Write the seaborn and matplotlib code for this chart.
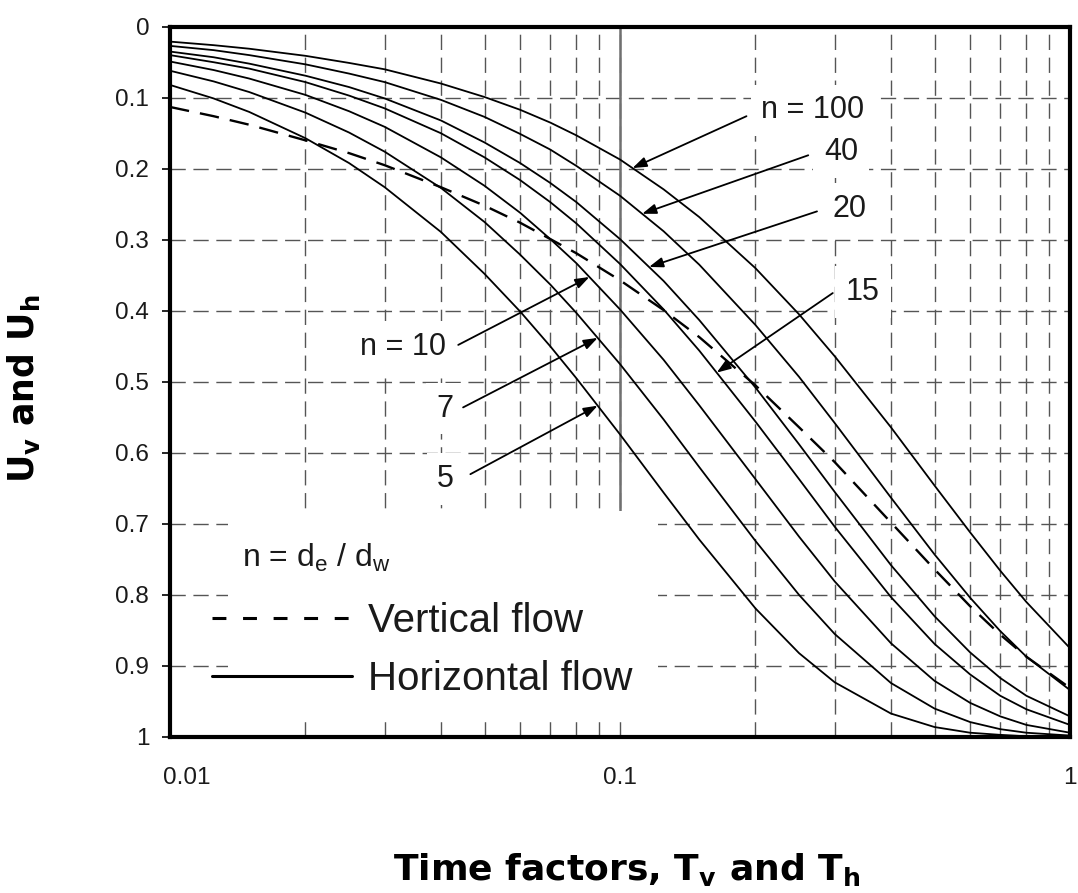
import numpy as np
import pandas as pd
import matplotlib
matplotlib.use("Agg")
import matplotlib.pyplot as plt
import matplotlib.transforms as mtransforms
from matplotlib.lines import Line2D
from matplotlib.patches import Rectangle
from matplotlib.ticker import FixedLocator, FixedFormatter, NullFormatter
import seaborn as sns

# ---------------------------------------------------------------- data
# Time factor samples (T_v and T_h)
time_factor = [0.01, 0.0125, 0.015, 0.02, 0.025, 0.03, 0.04, 0.05, 0.06, 0.07,
               0.08, 0.1, 0.125, 0.15, 0.2, 0.25, 0.3, 0.4, 0.5, 0.6, 0.7, 0.8, 1.0]

# Drain spacing ratios n = de / dw for the horizontal (radial) flow curves
spacing_ratios = [5, 7, 10, 15, 20, 40, 100]

# Degree of consolidation U_h for each spacing ratio
u_h_n5 = [0.082, 0.101, 0.120, 0.157, 0.192, 0.226, 0.289, 0.348, 0.401, 0.450,
          0.495, 0.574, 0.656, 0.722, 0.819, 0.882, 0.923, 0.967, 0.986, 0.994,
          0.997, 0.999, 1.000]
u_h_n7 = [0.062, 0.077, 0.092, 0.121, 0.149, 0.176, 0.227, 0.275, 0.321, 0.363,
          0.403, 0.475, 0.553, 0.620, 0.724, 0.800, 0.855, 0.924, 0.960, 0.979,
          0.989, 0.994, 0.998]
u_h_n10 = [0.049, 0.061, 0.073, 0.096, 0.119, 0.141, 0.184, 0.224, 0.262, 0.299,
           0.333, 0.398, 0.469, 0.533, 0.637, 0.718, 0.781, 0.868, 0.921, 0.952,
           0.971, 0.983, 0.994]
u_h_n15 = [0.040, 0.050, 0.059, 0.078, 0.097, 0.115, 0.150, 0.184, 0.216, 0.247,
           0.277, 0.334, 0.398, 0.456, 0.556, 0.637, 0.704, 0.803, 0.869, 0.912,
           0.942, 0.961, 0.983]
u_h_n20 = [0.035, 0.043, 0.052, 0.069, 0.085, 0.101, 0.132, 0.163, 0.192, 0.220,
           0.247, 0.299, 0.358, 0.413, 0.508, 0.588, 0.655, 0.758, 0.830, 0.881,
           0.917, 0.942, 0.971]
u_h_n40 = [0.027, 0.033, 0.040, 0.053, 0.066, 0.078, 0.103, 0.127, 0.151, 0.173,
           0.196, 0.238, 0.288, 0.335, 0.420, 0.493, 0.558, 0.663, 0.743, 0.804,
           0.851, 0.887, 0.934]
u_h_n100 = [0.021, 0.026, 0.031, 0.041, 0.051, 0.060, 0.080, 0.099, 0.117, 0.135,
            0.153, 0.187, 0.229, 0.268, 0.340, 0.405, 0.464, 0.564, 0.646, 0.712,
            0.766, 0.810, 0.875]

# Degree of consolidation U_v for vertical flow
u_vertical = [0.113, 0.126, 0.138, 0.160, 0.178, 0.195, 0.226, 0.252, 0.276, 0.299,
              0.319, 0.357, 0.399, 0.437, 0.505, 0.564, 0.613, 0.698, 0.764, 0.816,
              0.856, 0.887, 0.931]

# Axis ticks
x_major_ticks = [0.01, 0.1, 1.0]
x_tick_labels = ["0.01", "0.1", "1"]
x_minor_ticks = [0.02, 0.03, 0.04, 0.05, 0.06, 0.07, 0.08, 0.09,
                 0.2, 0.3, 0.4, 0.5, 0.6, 0.7, 0.8, 0.9]
y_ticks = [0.0, 0.1, 0.2, 0.3, 0.4, 0.5, 0.6, 0.7, 0.8, 0.9, 1.0]
y_tick_labels = ["0", "0.1", "0.2", "0.3", "0.4", "0.5", "0.6", "0.7", "0.8", "0.9", "1"]

# Curve labels: text, spacing ratio it points at, time factor where the arrow lands
curve_labels = ["n = 100", "40", "20", "15", "n = 10", "7", "5"]
label_ratio = [100, 40, 20, 15, 10, 7, 5]
arrow_tip_t = [0.1066, 0.112, 0.116, 0.164, 0.0855, 0.0892, 0.0892]

# ---------------------------------------------------------------- layout
# label anchor (T, U, horizontal alignment) and arrow tail (T, U)
label_anchor = [(0.206, 0.129, "left"), (0.284, 0.188, "left"),
                (0.296, 0.268, "left"), (0.318, 0.385, "left"),
                (0.0411, 0.462, "right"), (0.0426, 0.549, "right"),
                (0.0428, 0.648, "right")]
arrow_tail = [(0.191, 0.126), (0.262, 0.181), (0.274, 0.260), (0.297, 0.375),
              (0.0437, 0.448), (0.0448, 0.536), (0.0465, 0.630)]

# ---------------------------------------------------------------- style
sns.set_theme(style="white")
plt.rcParams["font.family"] = ["Liberation Sans", "DejaVu Sans"]
plt.rcParams["mathtext.default"] = "regular"
plt.rcParams["lines.scale_dashes"] = False
plt.rcParams["text.color"] = "#1a1a1a"

fig = plt.figure(figsize=(10.78, 8.93), dpi=100, facecolor="white")
ax = fig.add_axes([0.1577, 0.1747, 0.8349, 0.7954])
ax.set_facecolor("white")
ax.set_xscale("log")

h_series = dict(zip(spacing_ratios, [u_h_n5, u_h_n7, u_h_n10, u_h_n15,
                                     u_h_n20, u_h_n40, u_h_n100]))
horizontal = pd.DataFrame({
    "T": np.tile(time_factor, len(spacing_ratios)),
    "U": np.concatenate([h_series[n] for n in spacing_ratios]),
    "n": np.repeat(spacing_ratios, len(time_factor)),
})
vertical = pd.DataFrame({"T": time_factor, "U": u_vertical})

sns.lineplot(data=horizontal, x="T", y="U", units="n", estimator=None,
             color="black", linewidth=1.3, legend=False, ax=ax, zorder=2)
sns.lineplot(data=vertical, x="T", y="U", color="black", linewidth=1.7,
             linestyle=(0, (14, 8)), legend=False, ax=ax, zorder=2.1)

# axes, ticks and grid
ax.set_xlim(0.01, 1.0)
ax.set_ylim(1.0, 0.0)
ax.xaxis.set_major_locator(FixedLocator(x_major_ticks))
ax.xaxis.set_major_formatter(FixedFormatter(x_tick_labels))
ax.xaxis.set_minor_locator(FixedLocator(x_minor_ticks))
ax.xaxis.set_minor_formatter(NullFormatter())
ax.set_yticks(y_ticks)
ax.set_yticklabels(y_tick_labels)

grid_kw = dict(color="#555555", linewidth=1.0, linestyle=(0, (11, 5.5)))
ax.grid(True, axis="x", which="both", **grid_kw)
ax.grid(True, axis="y", which="major", **grid_kw)
ax.set_axisbelow(True)

ax.axvline(0.1, ymin=0.31, ymax=1.0, color="#707070", linewidth=1.8, zorder=0.9)

for spine in ax.spines.values():
    spine.set_visible(True)
    spine.set_color("black")
    spine.set_linewidth(3)

ax.tick_params(axis="y", which="major", left=True, length=6, width=1.2,
               color="black", pad=9, labelsize=17.5, labelcolor="#1a1a1a",
               direction="out")
ax.tick_params(axis="x", which="major", bottom=False, length=0, pad=21.5,
               labelsize=17.5, labelcolor="#1a1a1a")
ax.tick_params(axis="x", which="minor", bottom=False, length=0)
for lbl in ax.get_xticklabels():
    lbl.set_fontsize(17.5)
first = ax.get_xticklabels()[0]
first.set_horizontalalignment("left")
first.set_transform(first.get_transform() +
                    mtransforms.ScaledTranslation(-7 / 100, 0, fig.dpi_scale_trans))

ax.set_xlabel("Time factors, T$_v$ and T$_h$", fontsize=26, fontweight="bold",
              family="DejaVu Sans", color="black")
ax.xaxis.set_label_coords(0.507, -0.1606)
ax.set_ylabel("U$_v$ and U$_h$", fontsize=25, fontweight="bold",
              family="DejaVu Sans", color="black")
ax.yaxis.set_label_coords(-0.142, 0.49)

# key area in the lower left
ax.add_patch(Rectangle((0.0644, 0.0296), 0.4778, 0.2884, transform=ax.transAxes,
                       facecolor="white", edgecolor="none", zorder=1))
ax.text(0.08, 0.2394, "n = d$_e$ / d$_w$", transform=ax.transAxes, fontsize=23,
        va="baseline", ha="left", zorder=5)
handles = [Line2D([], [], color="black", linewidth=2.2, linestyle=(0, (10, 12))),
           Line2D([], [], color="black", linewidth=2.2)]
ax.legend(handles, ["Vertical flow", "Horizontal flow"], loc="upper left",
          bbox_to_anchor=(0.0467, 0.190), frameon=False, fontsize=29,
          handlelength=3.47, handletextpad=0.4, labelspacing=0.49,
          borderpad=0, borderaxespad=0, labelcolor="#1a1a1a")

# curve labels with arrows
log_t = np.log10(time_factor)
for text, n, tip_t, (lx, ly, ha), tail in zip(curve_labels, label_ratio, arrow_tip_t,
                                              label_anchor, arrow_tail):
    tip_u = float(np.interp(np.log10(tip_t), log_t, h_series[n]))
    ax.text(lx, ly, text, fontsize=22, ha=ha, va="baseline", zorder=1.5,
            bbox=dict(boxstyle="square,pad=0.35", facecolor="white", edgecolor="none"))
    ax.annotate("", xy=(tip_t, tip_u), xytext=tail, zorder=4,
                arrowprops=dict(arrowstyle="-|>,head_length=0.7,head_width=0.25",
                                color="black", linewidth=1.3, shrinkA=0, shrinkB=0,
                                mutation_scale=12))

fig.savefig("out.png", dpi=100, facecolor="white")
